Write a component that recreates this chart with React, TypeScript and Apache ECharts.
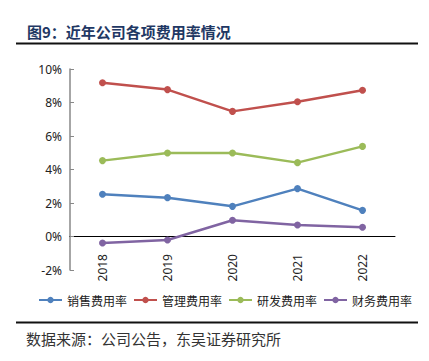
import React, { useEffect, useRef } from "react";
import * as echarts from "echarts";

const categories = ["2018", "2019", "2020", "2021", "2022"];
const seriesNames = ["销售费用率", "管理费用率", "研发费用率", "财务费用率"];
const sales = [2.52, 2.32, 1.8, 2.86, 1.56];
const admin = [9.18, 8.77, 7.47, 8.05, 8.73];
const rnd = [4.53, 4.99, 4.99, 4.41, 5.38];
const finance = [-0.39, -0.21, 0.97, 0.69, 0.55];
const colors = ["#4F81BD", "#C0504D", "#9BBB59", "#8064A2"];
const titleText = "图9：近年公司各项费用率情况";
const sourceText = "数据来源：公司公告，东吴证券研究所";

export default function App() {
  const ref = useRef<HTMLDivElement>(null);
  useEffect(() => {
    if (!ref.current) return;
    const chart = echarts.init(ref.current, null, { renderer: "svg" });
    const data = [sales, admin, rnd, finance];
    chart.setOption({
      animation: false,
      backgroundColor: "#ffffff",
      color: colors,
      grid: { left: 70, right: 34, top: 69, bottom: 91 },
      legend: {
        top: 289,
        left: 33,
        itemWidth: 23,
        itemHeight: 8,
        itemGap: 6,
        textStyle: { fontSize: 12, color: "#222", fontFamily: "Noto Sans CJK SC" },
        data: seriesNames,
      },
      xAxis: {
        type: "category",
        data: categories,
        boundaryGap: true,
        axisLine: { onZero: true, lineStyle: { color: "#000", width: 1 } },
        axisTick: { inside: true, length: 4, lineStyle: { color: "#000" } },
        axisLabel: { rotate: 90, margin: -16, fontSize: 12, color: "#222", fontFamily: "Noto Sans" },
        splitLine: { show: false },
      },
      yAxis: {
        type: "value",
        min: -2,
        max: 10,
        interval: 2,
        axisLine: { show: true, onZero: false, lineStyle: { color: "#888", width: 1.5 } },
        axisTick: { show: true, inside: true, length: 4, lineStyle: { color: "#888" } },
        axisLabel: { formatter: "{value}%", fontSize: 12, color: "#222", margin: 8, fontFamily: "Noto Sans" },
        splitLine: { show: false },
      },
      series: seriesNames.map((name, i) => ({
        name,
        type: "line",
        data: data[i],
        symbol: "circle",
        symbolSize: 7,
        lineStyle: { width: 2.5, color: colors[i] },
        itemStyle: { color: colors[i] },
      })),
      graphic: [
        {
          type: "text",
          left: 27,
          top: 24,
          style: {
            text: titleText,
            fontSize: 15,
            fontWeight: "bold",
            fill: "#1F3864",
            fontFamily: "Noto Sans CJK SC",
          },
        },
        {
          type: "line",
          shape: { x1: 16, y1: 43.5, x2: 418, y2: 43.5 },
          style: { stroke: "#111", lineWidth: 2 },
        },
        {
          type: "line",
          shape: { x1: 16, y1: 322.5, x2: 418, y2: 322.5 },
          style: { stroke: "#111", lineWidth: 2 },
        },
        {
          type: "text",
          left: 26,
          top: 331,
          style: {
            text: sourceText,
            fontSize: 15,
            fill: "#333",
            fontFamily: "Noto Sans CJK SC",
          },
        },
      ],
    });
    return () => chart.dispose();
  }, []);
  return (
    <div
      ref={ref}
      style={{ position: "fixed", left: 0, top: 0, width: 429, height: 361, background: "#fff" }}
    />
  );
}
